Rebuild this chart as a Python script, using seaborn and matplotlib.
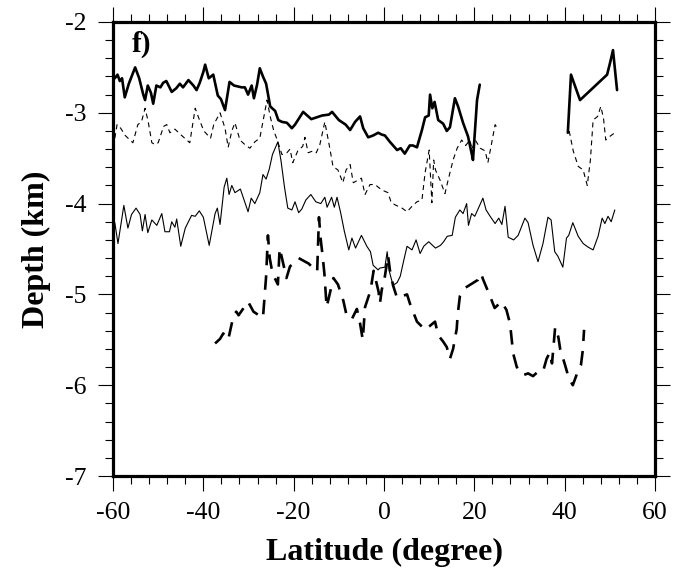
import numpy as np
import pandas as pd
import matplotlib
matplotlib.use('Agg')
import matplotlib.pyplot as plt
from matplotlib.ticker import MultipleLocator
import seaborn as sns

# thick solid line, two pieces
lat_a1 = [-59.6, -59.0, -58.5, -58.0, -57.4, -56.5, -55.1, -54.2, -53.3, -52.9, -52.3, -51.6, -51.1,
          -50.4, -49.5, -48.9, -48.2, -47.5, -47.0, -46.0, -45.2, -44.5, -43.3, -42.2, -41.5, -40.8,
          -40.0, -39.6, -38.8, -37.8, -36.8, -36.1, -35.2, -34.2, -33.2, -31.5, -30.8, -30.1, -29.3,
          -28.8, -28.1, -27.5, -26.8, -26.1, -25.2, -24.1, -23.4, -22.6, -21.5, -20.4, -19.7, -17.9,
          -16.1, -13.7, -12.2, -11.5, -10.0, -8.5, -7.5, -6.4, -5.3, -4.6, -3.5, -2.4, -1.3, -0.5,
          0.2, 1.3, 2.9, 3.7, 4.6, 5.7, 6.4, 7.3, 8.4, 9.1, 9.9, 10.2, 10.7, 11.2, 12.0, 13.1, 13.9,
          14.6, 15.7, 16.4, 17.5, 18.6, 19.5, 19.7, 20.6, 21.2]
dep_a1 = [-2.62, -2.58, -2.65, -2.62, -2.83, -2.68, -2.50, -2.62, -2.80, -2.86, -2.70, -2.78, -2.90,
          -2.70, -2.72, -2.67, -2.65, -2.72, -2.77, -2.73, -2.68, -2.72, -2.64, -2.70, -2.75, -2.67,
          -2.55, -2.47, -2.62, -2.58, -2.81, -2.85, -2.97, -2.66, -2.70, -2.72, -2.72, -2.80, -2.70,
          -2.84, -2.69, -2.51, -2.60, -2.68, -2.93, -2.98, -3.08, -3.10, -3.11, -3.17, -3.13, -2.99,
          -3.07, -3.03, -3.02, -2.99, -3.08, -3.13, -3.19, -3.10, -3.04, -3.17, -3.27, -3.25, -3.22,
          -3.24, -3.25, -3.32, -3.41, -3.39, -3.45, -3.36, -3.36, -3.38, -3.19, -3.05, -3.03, -2.80,
          -2.95, -2.88, -3.08, -3.12, -3.20, -3.16, -2.84, -2.93, -3.11, -3.26, -3.47, -3.52, -2.86,
          -2.69]
lat_a2 = [40.7, 41.4, 43.4, 49.4, 50.1, 50.7, 51.6]
dep_a2 = [-3.22, -2.58, -2.86, -2.58, -2.44, -2.31, -2.75]

# thin short-dashed line, two pieces
lat_b1 = [-59.6, -59.1, -58.3, -57.3, -55.6, -54.5, -53.7, -52.9, -52.2, -51.4, -50.7, -50.0, -48.8,
          -48.1, -47.4, -46.3, -44.8, -43.0, -41.8, -41.0, -39.9, -38.4, -37.7, -36.3, -35.2, -34.5,
          -33.7, -33.0, -31.9, -30.8, -29.7, -28.6, -27.5, -26.7, -25.9, -25.2, -24.4, -23.7, -22.6,
          -21.5, -20.8, -20.2, -19.1, -18.0, -17.5, -16.8, -15.7, -15.0, -14.2, -13.1, -12.0, -11.3,
          -10.2, -9.1, -8.4, -7.5, -6.8, -5.7, -5.0, -4.2, -3.1, -2.0, -0.5, 0.9, 1.6, 2.7, 4.0, 5.1,
          6.2, 7.3, 8.4, 9.1, 10.0, 10.6, 11.0, 11.4, 12.4, 13.5, 14.2, 15.3, 16.2, 17.2, 18.1, 19.0,
          19.5, 20.2, 21.3, 22.4, 23.0, 23.7, 24.6, 25.1]
dep_b1 = [-3.28, -3.13, -3.17, -3.25, -3.33, -3.13, -3.10, -2.95, -3.10, -3.33, -3.35, -3.33, -3.15,
          -3.13, -3.22, -3.18, -3.25, -3.33, -2.95, -3.06, -3.20, -3.28, -3.13, -3.00, -3.17, -3.38,
          -3.20, -3.11, -3.30, -3.35, -3.39, -3.32, -3.28, -3.07, -2.86, -3.04, -3.20, -3.29, -3.46,
          -3.44, -3.40, -3.55, -3.42, -3.37, -3.27, -3.44, -3.42, -3.44, -3.35, -3.10, -3.39, -3.59,
          -3.63, -3.77, -3.63, -3.57, -3.77, -3.74, -3.72, -3.90, -3.79, -3.79, -3.85, -3.88, -3.99,
          -4.02, -4.05, -4.09, -4.03, -3.98, -3.96, -3.66, -3.41, -3.99, -3.52, -3.63, -3.74, -3.89,
          -3.74, -3.52, -3.39, -3.30, -3.36, -3.30, -3.40, -3.30, -3.39, -3.42, -3.55, -3.37, -3.13,
          -3.17]
lat_b2 = [41.0, 41.9, 43.0, 44.1, 45.0, 45.7, 46.3, 47.3, 48.0, 48.6, 49.1, 50.0, 51.1]
dep_b2 = [-3.20, -3.42, -3.59, -3.63, -3.80, -3.52, -3.08, -3.04, -2.93, -3.06, -3.30, -3.26, -3.22]

# thin solid line
lat_c = [-59.6, -58.9, -57.6, -56.7, -55.9, -54.9, -54.0, -53.5, -52.9, -52.3, -51.4, -50.3, -49.2,
         -48.5, -47.5, -47.0, -46.3, -45.9, -45.0, -44.0, -42.6, -41.8, -40.9, -40.0, -38.7, -37.4,
         -36.9, -36.3, -35.4, -34.8, -34.3, -33.7, -33.0, -31.8, -30.1, -29.4, -28.6, -27.5, -26.8,
         -26.1, -25.4, -24.7, -23.5, -22.8, -22.0, -21.3, -20.4, -19.7, -18.9, -18.2, -17.3, -16.2,
         -15.1, -14.0, -13.1, -12.6, -11.6, -11.0, -10.4, -9.6, -8.8, -7.8, -7.1, -6.3, -5.0, -3.8,
         -3.0, -2.4, -1.3, -0.9, 0.2, 0.7, 1.2, 2.0, 2.9, 3.6, 4.4, 5.1, 6.2, 7.1, 8.0, 8.8, 9.9,
         11.4, 12.5, 13.2, 14.0, 15.1, 15.8, 16.8, 17.5, 18.3, 18.7, 19.4, 20.1, 20.9, 21.9, 22.6,
         23.5, 24.6, 25.4, 26.1, 26.8, 27.5, 28.7, 29.7, 31.2, 31.9, 33.0, 34.1, 35.2, 36.3, 37.0,
         37.8, 38.5, 39.6, 40.4, 40.9, 41.8, 43.0, 44.1, 45.2, 46.3, 47.4, 48.3, 48.9, 49.6, 50.3,
         51.1]
dep_c = [-4.21, -4.44, -4.02, -4.27, -4.12, -4.05, -4.12, -4.30, -4.12, -4.32, -4.18, -4.24, -4.11,
         -4.31, -4.31, -4.20, -4.26, -4.17, -4.47, -4.27, -4.13, -4.14, -4.08, -4.15, -4.46, -4.11,
         -4.05, -4.23, -3.82, -3.72, -3.90, -3.80, -3.88, -3.84, -4.09, -3.94, -4.00, -3.88, -3.68,
         -3.73, -3.62, -3.46, -3.32, -3.53, -3.83, -4.05, -4.07, -3.98, -4.10, -4.06, -3.96, -3.90,
         -3.98, -4.00, -3.93, -4.04, -3.93, -4.04, -3.93, -4.10, -4.30, -4.51, -4.38, -4.49, -4.35,
         -4.47, -4.53, -4.68, -4.73, -4.71, -4.70, -4.53, -4.75, -4.90, -4.87, -4.80, -4.62, -4.47,
         -4.51, -4.40, -4.55, -4.47, -4.42, -4.49, -4.46, -4.42, -4.36, -4.35, -4.15, -4.07, -4.11,
         -4.00, -4.24, -4.11, -4.14, -4.05, -3.94, -4.07, -4.14, -4.22, -4.16, -4.23, -4.03, -4.37,
         -4.40, -4.35, -4.16, -4.21, -4.46, -4.64, -4.44, -4.15, -4.18, -4.53, -4.58, -4.70, -4.38,
         -4.35, -4.21, -4.36, -4.44, -4.48, -4.51, -4.36, -4.16, -4.22, -4.14, -4.20, -4.07]

# thick long-dashed line
lat_d = [-37.4, -36.3, -35.6, -35.0, -34.5, -33.3, -32.7, -32.2, -30.1, -28.9, -26.8, -26.1, -25.7,
         -25.3, -24.9, -24.2, -23.5, -23.1, -22.5, -21.6, -20.8, -20.0, -18.9, -16.7, -14.8, -14.4,
         -14.0, -13.6, -13.2, -12.7, -11.2, -10.2, -9.0, -8.2, -7.1, -6.0, -5.3, -4.7, -4.2, -3.0,
         -2.3, -1.2, -0.9, -0.5, 0.2, 0.9, 1.3, 2.0, 2.9, 5.1, 5.8, 7.3, 9.1, 11.3, 12.0, 13.1, 13.9,
         14.6, 15.3, 16.1, 16.3, 16.8, 17.9, 20.8, 21.5, 21.9, 23.4, 24.5, 26.0, 27.1, 27.9, 28.6,
         29.4, 30.8, 31.9, 33.0, 34.1, 35.2, 36.0, 36.7, 37.2, 37.9, 38.6, 39.0, 40.1, 40.9, 41.8,
         42.9, 43.6, 44.0, 44.3]
dep_d = [-5.54, -5.49, -5.43, -5.47, -5.50, -5.23, -5.19, -5.23, -5.08, -5.19, -5.26, -4.80, -4.35,
         -4.60, -4.71, -4.82, -4.89, -4.49, -4.62, -4.82, -4.69, -4.66, -4.60, -4.66, -4.75, -4.15,
         -4.40, -4.57, -4.77, -5.14, -4.82, -4.89, -5.07, -5.25, -5.27, -5.16, -5.32, -5.50, -5.14,
         -4.96, -4.74, -4.97, -5.10, -4.95, -4.80, -4.57, -4.73, -4.90, -5.04, -5.00, -5.11, -5.30,
         -5.39, -5.30, -5.45, -5.52, -5.58, -5.71, -5.60, -5.38, -5.23, -5.02, -4.93, -4.84, -4.77,
         -4.83, -5.01, -5.15, -5.08, -5.17, -5.32, -5.65, -5.80, -5.89, -5.87, -5.90, -5.85, -5.85,
         -5.71, -5.64, -5.76, -5.36, -5.47, -5.60, -5.78, -5.92, -6.00, -5.85, -5.78, -5.62, -5.39]

sns.set_style('ticks')
plt.rcParams['font.family'] = ['Liberation Serif', 'DejaVu Serif']
plt.rcParams['axes.unicode_minus'] = False
plt.rcParams['text.color'] = 'black'
plt.rcParams['axes.labelcolor'] = 'black'
plt.rcParams['xtick.color'] = 'black'
plt.rcParams['ytick.color'] = 'black'

fig = plt.figure(figsize=(6.82, 5.8), dpi=100)
ax = fig.add_axes([0.1657, 0.1793, 0.7947, 0.7828])

thick = dict(color='black', linewidth=1.9)
thin = dict(color='black', linewidth=0.8)

for lat, dep in [(lat_a1, dep_a1), (lat_a2, dep_a2)]:
    sns.lineplot(x=lat, y=dep, ax=ax, sort=False, estimator=None, **thick)
for lat, dep in [(lat_b1, dep_b1), (lat_b2, dep_b2)]:
    sns.lineplot(x=lat, y=dep, ax=ax, sort=False, estimator=None,
                 linestyle=(0, (4.5, 3.6)), **thin)
sns.lineplot(x=lat_c, y=dep_c, ax=ax, sort=False, estimator=None, **thin)
sns.lineplot(x=lat_d, y=dep_d, ax=ax, sort=False, estimator=None,
             linestyle=(0, (5.5, 3.8)), **thick)

ax.set_xlim(-60, 60)
ax.set_ylim(-7, -2)
ax.xaxis.set_major_locator(MultipleLocator(20))
ax.xaxis.set_minor_locator(MultipleLocator(4))
ax.yaxis.set_major_locator(MultipleLocator(1))
ax.yaxis.set_minor_locator(MultipleLocator(0.2))
ax.tick_params(which='both', direction='out', top=True, right=True, color='black',
               labelcolor='black', width=0.8)
ax.tick_params(which='major', length=11, labelsize=18.5, pad=8)
ax.tick_params(which='minor', length=5.5)
for s in ax.spines.values():
    s.set_linewidth(2.3)
    s.set_color('black')

ax.set_xlabel('Latitude (degree)', fontsize=23, fontweight='bold', labelpad=10, color='black')
ax.set_ylabel('Depth (km)', fontsize=23, fontweight='bold', labelpad=10, color='black')
ax.text(0.035, 0.934, 'f)', transform=ax.transAxes, fontsize=21, fontweight='bold',
        ha='left', va='baseline', color='black')

fig.savefig('out.png', dpi=100)
